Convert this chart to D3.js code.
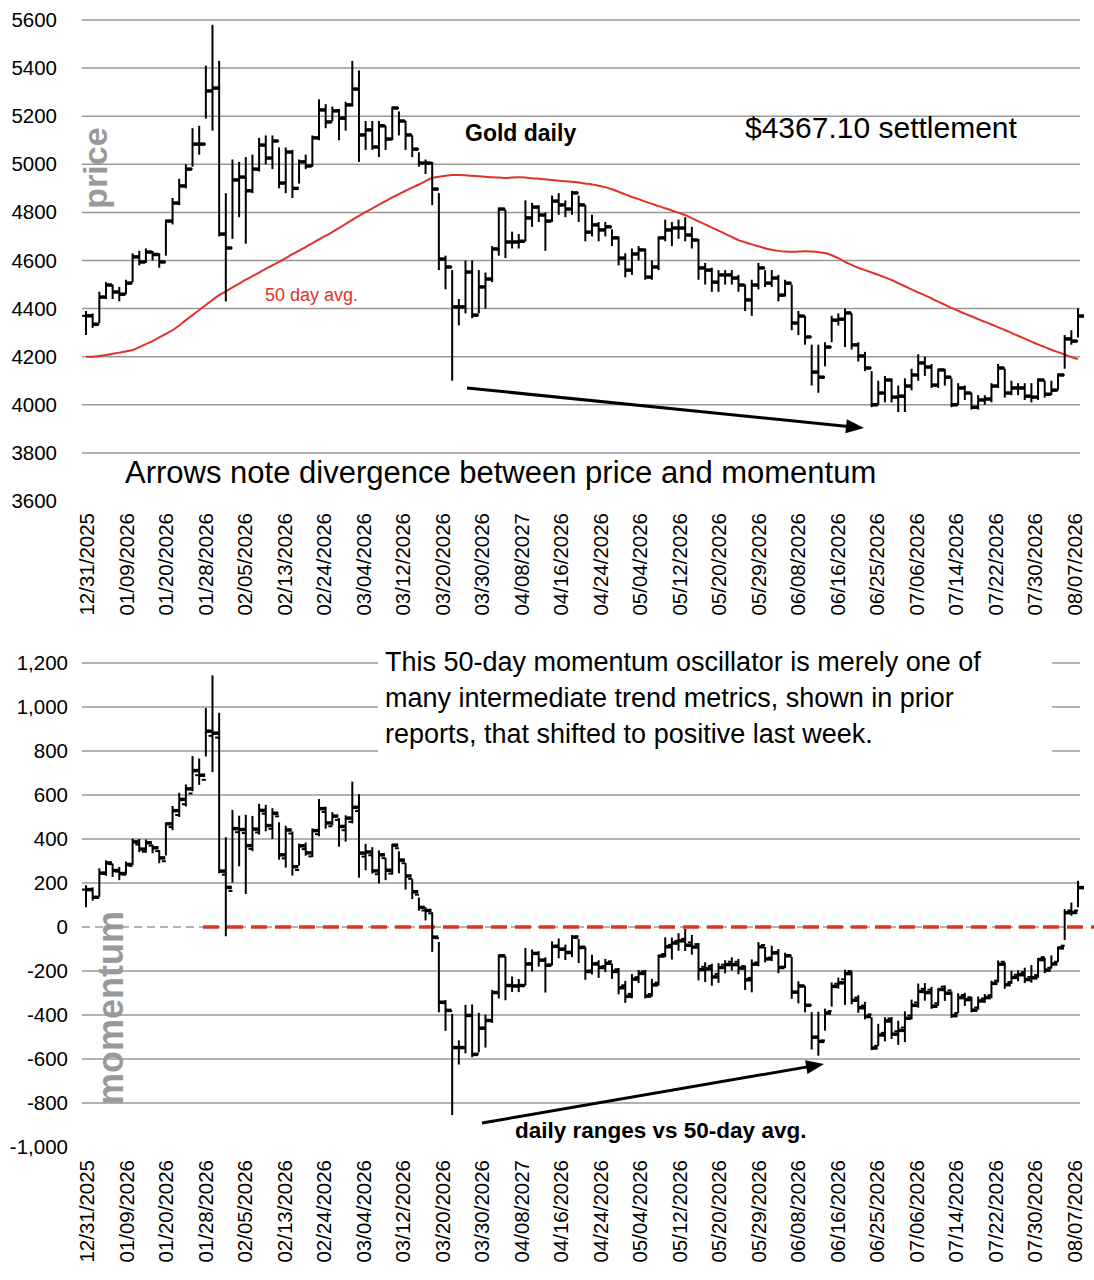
<!DOCTYPE html>
<html><head><meta charset="utf-8">
<script src="https://cdn.jsdelivr.net/npm/d3@7"></script>
<style>body{margin:0;background:#fff}text{font-family:Arial,"Liberation Sans",sans-serif}</style>
</head><body>
<svg id="chart" width="1094" height="1280"></svg>
<script>
// daily gold bars (close / high / low)
const closes = [4370,4335,4448,4498,4469,4460,4506,4615,4594,4635,4625,4594,4764,4839,4910,4980,5084,5084,5305,5317,
4710,4652,4935,4947,4890,4980,5080,5026,5097,4922,5051,4900,5010,4993,5110,5226,5176,5222,5192,5247,
5313,5122,5143,5072,5160,5105,5234,5180,5122,5063,5005,5005,4897,4606,4573,4407,4407,4552,4373,4490,
4523,4648,4814,4677,4677,4680,4777,4822,4789,4764,4847,4831,4814,4881,4831,4718,4748,4727,4740,4694,
4610,4560,4627,4644,4531,4573,4694,4727,4735,4735,4706,4685,4569,4560,4510,4540,4540,4527,4498,4436,
4498,4569,4506,4527,4456,4506,4340,4369,4282,4136,4115,4240,4352,4356,4382,4249,4203,4153,4000,4049,
4103,4032,4036,4078,4124,4174,4157,4082,4145,4115,4000,4070,4049,3990,4020,4024,4078,4153,4049,4070,
4070,4036,4032,4103,4044,4061,4124,4274,4265,4369];
const highs = [4390,4380,4470,4510,4500,4490,4520,4630,4640,4650,4640,4630,4770,4860,4940,5000,5150,5160,5410,5580,
5430,4880,5020,5010,5030,5040,5110,5120,5120,5070,5070,5060,5020,5040,5120,5270,5250,5240,5230,5260,
5430,5390,5180,5180,5180,5160,5240,5220,5180,5120,5050,5020,5010,4880,4620,4560,4440,4600,4600,4560,
4550,4660,4820,4810,4720,4710,4850,4840,4830,4800,4870,4880,4850,4890,4870,4830,4790,4760,4760,4730,
4700,4630,4650,4660,4650,4600,4700,4770,4760,4770,4780,4740,4690,4590,4570,4560,4560,4560,4540,4500,
4520,4590,4560,4560,4540,4520,4500,4390,4370,4250,4250,4260,4370,4380,4400,4380,4260,4220,4140,4100,
4120,4110,4080,4110,4150,4210,4200,4170,4150,4150,4110,4090,4080,4050,4040,4040,4090,4170,4150,4100,
4090,4090,4090,4110,4100,4100,4130,4290,4310,4400];
const lows = [4290,4320,4340,4440,4440,4430,4460,4510,4580,4590,4600,4570,4620,4750,4830,4900,4990,5040,5190,5140,
4700,4430,4690,4780,4670,4880,4970,5000,4980,4900,4880,4860,4920,4980,4990,5100,5150,5180,5100,5140,
5240,5010,5060,5060,5030,5060,5100,5120,5060,5030,4990,4960,4830,4560,4480,4100,4330,4380,4360,4380,
4400,4510,4620,4610,4650,4650,4680,4740,4760,4640,4760,4790,4780,4790,4760,4680,4700,4680,4700,4660,
4580,4530,4540,4600,4520,4520,4560,4680,4660,4690,4680,4650,4520,4500,4470,4470,4500,4500,4470,4390,
4370,4480,4490,4490,4430,4450,4310,4290,4250,4080,4050,4160,4260,4330,4240,4230,4180,4140,3990,4000,
4010,4010,3970,3970,4060,4100,4120,4070,4070,4080,3990,4000,4020,3980,3980,4000,4010,4070,4030,4040,
4040,4020,4010,4020,4030,4040,4060,4150,4250,4280];
// 50 day average
const avg50 = [4200,4200,4203,4207,4212,4217,4222,4228,4240,4252,4265,4280,4295,4310,4330,4352,4373,4394,4415,4436,
4456,4472,4488,4504,4520,4535,4550,4565,4580,4594,4610,4626,4641,4656,4672,4688,4703,4718,4735,4752,
4769,4786,4802,4817,4832,4847,4862,4876,4890,4903,4916,4930,4943,4948,4952,4955,4955,4954,4952,4950,
4948,4946,4945,4943,4945,4946,4945,4942,4940,4938,4935,4932,4930,4927,4924,4920,4916,4911,4905,4896,
4886,4875,4864,4855,4845,4836,4826,4817,4808,4798,4789,4776,4763,4750,4737,4724,4711,4698,4685,4676,
4667,4659,4651,4645,4640,4637,4636,4637,4638,4637,4635,4631,4622,4610,4594,4582,4570,4560,4550,4540,
4530,4519,4506,4493,4480,4467,4455,4442,4429,4416,4403,4391,4379,4368,4356,4345,4334,4322,4311,4299,
4287,4275,4263,4251,4240,4229,4219,4209,4199,4190];
const dateLabels = ["12/31/2025","01/09/2026","01/20/2026","01/28/2026","02/05/2026","02/13/2026","02/24/2026",
"03/04/2026","03/12/2026","03/20/2026","03/30/2026","04/08/2027","04/16/2026","04/24/2026","05/04/2026",
"05/12/2026","05/20/2026","05/29/2026","06/08/2026","06/16/2026","06/25/2026","07/06/2026","07/14/2026",
"07/22/2026","07/30/2026","08/07/2026"];
const priceTicks = [3600,3800,4000,4200,4400,4600,4800,5000,5200,5400,5600];
const momTicks = [-1000,-800,-600,-400,-200,0,200,400,600,800,1000,1200];

const svg = d3.select("#chart");
const n = closes.length;
const x = d3.scaleLinear().domain([0, n - 1]).range([86, 1078]);
const xl = d3.scalePoint().domain(dateLabels).range([87, 1075]);
const yP = d3.scaleLinear().domain([3600, 5600]).range([501, 20]);
const yM = d3.scaleLinear().domain([-1000, 1200]).range([1147, 663]);

// momentum = bar minus 50 day average
const mom = closes.map((c, i) => ({c: c - avg50[i], h: highs[i] - avg50[i], l: lows[i] - avg50[i],
  o: (i ? closes[i - 1] : c) - avg50[i]}));
const px = closes.map((c, i) => ({c: c, h: highs[i], l: lows[i], o: i ? closes[i - 1] : c}));

function grid(y, ticks) {
  svg.append("g").selectAll("line").data(ticks).join("line")
    .attr("x1", 82).attr("x2", 1080).attr("y1", d => y(d)).attr("y2", d => y(d))
    .attr("stroke", "#999").attr("stroke-width", 1.5);
}
function yLabels(y, ticks, fmt, xr) {
  svg.append("g").selectAll("text").data(ticks).join("text")
    .attr("x", xr).attr("y", d => y(d) + 7).attr("text-anchor", "end")
    .attr("font-size", 20.5).text(fmt);
}
function xLabels(yTop) {
  svg.append("g").selectAll("text").data(dateLabels).join("text")
    .attr("transform", d => `translate(${xl(d) + 7},${yTop}) rotate(-90)`)
    .attr("text-anchor", "end").attr("font-size", 20.5).text(d => d);
}
function bars(data, y) {
  const g = svg.append("g").attr("stroke", "#000");
  data.forEach((d, i) => {
    const cx = x(i);
    g.append("line").attr("x1", cx).attr("x2", cx).attr("y1", y(d.h)).attr("y2", y(d.l)).attr("stroke-width", 2);
    g.append("line").attr("x1", cx).attr("x2", cx + 6).attr("y1", y(d.c)).attr("y2", y(d.c)).attr("stroke-width", 3.5);
    g.append("line").attr("x1", cx - 4).attr("x2", cx).attr("y1", y(d.o)).attr("y2", y(d.o)).attr("stroke-width", 2);
  });
}
function arrow(x1, y1, x2, y2) {
  svg.append("line").attr("x1", x1).attr("y1", y1).attr("x2", x2 - (x2 - x1) * 0.04).attr("y2", y2 - (y2 - y1) * 0.04)
    .attr("stroke", "#000").attr("stroke-width", 3);
  const a = Math.atan2(y2 - y1, x2 - x1) * 180 / Math.PI;
  svg.append("path").attr("d", "M0,0 L-18,-7 L-18,7 Z").attr("fill", "#000")
    .attr("transform", `translate(${x2},${y2}) rotate(${a})`);
}

// ---- top panel
grid(yP, priceTicks.filter(t => t > 3600));
yLabels(yP, priceTicks, d => d, 57);
xLabels(513);
svg.append("text").attr("transform", "translate(107,168) rotate(-90)").attr("text-anchor", "middle")
  .attr("font-size", 34).attr("font-weight", "bold").attr("fill", "#999").text("price");
svg.append("path").datum(avg50).attr("fill", "none").attr("stroke", "#e0322a").attr("stroke-width", 2)
  .attr("d", d3.line().x((d, i) => x(i)).y(d => yP(d)).curve(d3.curveMonotoneX));
bars(px, yP);
svg.append("text").attr("x", 465).attr("y", 141).attr("font-size", 23).attr("font-weight", "bold").text("Gold daily");
svg.append("text").attr("x", 745).attr("y", 138).attr("font-size", 30).text("$4367.10 settlement");
svg.append("text").attr("x", 265).attr("y", 301).attr("font-size", 18).attr("fill", "#e0322a").text("50 day avg.");
svg.append("text").attr("x", 125).attr("y", 483).attr("font-size", 31).text("Arrows note divergence between price and momentum");
arrow(467, 388, 864, 428);

// ---- bottom panel
grid(yM, momTicks.filter(t => t > -1000 && t !== 0));
svg.append("rect").attr("x", 378).attr("y", 645).attr("width", 674).attr("height", 112).attr("fill", "#fff");
yLabels(yM, momTicks, d => d3.format(",")(d).replace("\u2212", "-"), 68);
xLabels(1160);
svg.append("line").attr("x1", 82).attr("x2", 1080).attr("y1", yM(0)).attr("y2", yM(0))
  .attr("stroke", "#999").attr("stroke-width", 1.5).attr("stroke-dasharray", "8,5");
svg.append("line").attr("x1", 203).attr("x2", 1094).attr("y1", yM(0)).attr("y2", yM(0))
  .attr("stroke", "#e0322a").attr("stroke-width", 3.5).attr("stroke-dasharray", "16,8");
svg.append("text").attr("transform", `translate(123,1008) rotate(-90)`).attr("text-anchor", "middle")
  .attr("font-size", 36).attr("font-weight", "bold").attr("fill", "#999").text("momentum");
bars(mom, yM);
const note = svg.append("text").attr("font-size", 27);
["This 50-day momentum oscillator is merely one of", "many intermediate trend metrics, shown in prior",
 "reports, that shifted to positive last week."].forEach((t, i) =>
  note.append("tspan").attr("x", 385).attr("y", 671 + i * 36).text(t));
svg.append("text").attr("x", 515).attr("y", 1138).attr("font-size", 22.5).attr("font-weight", "bold").text("daily ranges vs 50-day avg.");
arrow(482, 1123, 824, 1064);
</script>
</body></html>
